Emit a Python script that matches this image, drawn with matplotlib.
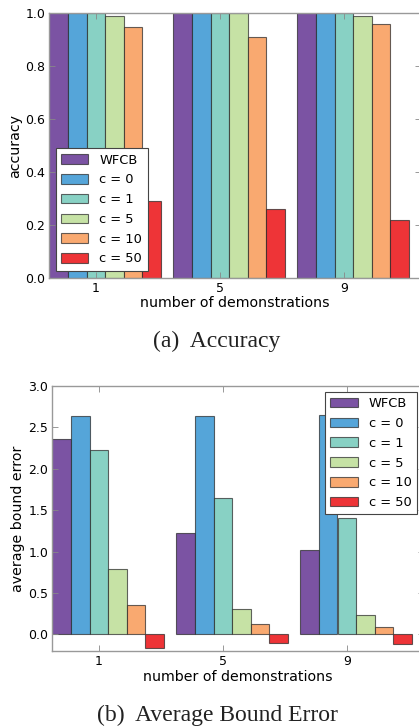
import matplotlib
matplotlib.use("Agg")
import matplotlib.pyplot as plt
import numpy as np

groups = ["1", "5", "9"]
series = ["WFCB", "c = 0", "c = 1", "c = 5", "c = 10", "c = 50"]
colors = ["#7B53A3", "#55A5D9", "#88D1C4", "#C6E2A5", "#F9A970", "#EE3437"]

accuracy = {
    "WFCB":   [1.00, 1.00, 1.00],
    "c = 0":  [1.00, 1.00, 1.00],
    "c = 1":  [1.00, 1.00, 1.00],
    "c = 5":  [0.99, 1.00, 0.99],
    "c = 10": [0.95, 0.91, 0.96],
    "c = 50": [0.29, 0.26, 0.22],
}
bound_error = {
    "WFCB":   [2.36, 1.22, 1.02],
    "c = 0":  [2.64, 2.64, 2.65],
    "c = 1":  [2.23, 1.64, 1.41],
    "c = 5":  [0.79, 0.31, 0.23],
    "c = 10": [0.36, 0.12, 0.09],
    "c = 50": [-0.16, -0.10, -0.11],
}

W, H = 419, 727
fig = plt.figure(figsize=(W / 100, H / 100), dpi=100)

def px_axes(left, top, right, bottom):
    return fig.add_axes([left / W, 1 - bottom / H, (right - left) / W, (bottom - top) / H])

ax1 = px_axes(49.3, 13.3, 49.3 + 3 * 124, 277.7)
ax2 = px_axes(52.3, 385.7, 52.3 + 3 * 124, 651.0)

width = 0.15
ind = np.arange(len(groups))
edge = (0.15, 0.15, 0.15, 0.7)

def draw(ax, data, ylim, yticks, yfmt, ylabel, legend_loc, anchor):
    handles = []
    for i, (name, col) in enumerate(zip(series, colors)):
        b = ax.bar(ind + i * width, data[name], width, align="edge", color=col,
                   edgecolor=edge, linewidth=0.8, label=name)
        handles.append(b)
    ax.set_xlim(0, 3)
    ax.set_ylim(*ylim)
    ax.set_yticks(yticks)
    ax.set_yticklabels([yfmt % v for v in yticks])
    ax.set_xticks(ind + 2.5 * width)
    ax.set_xticklabels(groups)
    ax.set_xlabel("number of demonstrations", fontsize=10.2, labelpad=1)
    ax.set_ylabel(ylabel, fontsize=10.2, labelpad=2)
    ax.tick_params(direction="in", top=True, right=True, length=4, width=0.6,
                   color="#888888", labelsize=9, pad=3)
    for s in ax.spines.values():
        s.set_color("#999999")
        s.set_linewidth(1.0)
    leg = ax.legend(handles=handles, loc=legend_loc, bbox_to_anchor=anchor,
                    borderaxespad=0, fontsize=9.4, fancybox=False,
                    handlelength=2.1, handleheight=0.75, handletextpad=0.85,
                    labelspacing=0.52, borderpad=0.4, framealpha=1)
    leg.get_frame().set_edgecolor("#444444")
    leg.get_frame().set_linewidth(0.8)

draw(ax1, accuracy, (0, 1.0), [0.0, 0.2, 0.4, 0.6, 0.8, 1.0], "%.1f", "accuracy",
     "lower left", (6.4 / 372, 7 / 264.4))
draw(ax2, bound_error, (-0.2, 3.0), [0.0, 0.5, 1.0, 1.5, 2.0, 2.5, 3.0], "%.1f",
     "average bound error", "upper right", ((417 - 52.3) / 372, 1 - 6.3 / 265.3))

fig.text(217 / W, 1 - 341 / H, "(a)  Accuracy", family="Liberation Serif",
         fontsize=17, ha="center", va="center", color="#222222")
fig.text(217 / W, 1 - 715 / H, "(b)  Average Bound Error", family="Liberation Serif",
         fontsize=17, ha="center", va="center", color="#222222")

fig.savefig("out.png", dpi=100)
